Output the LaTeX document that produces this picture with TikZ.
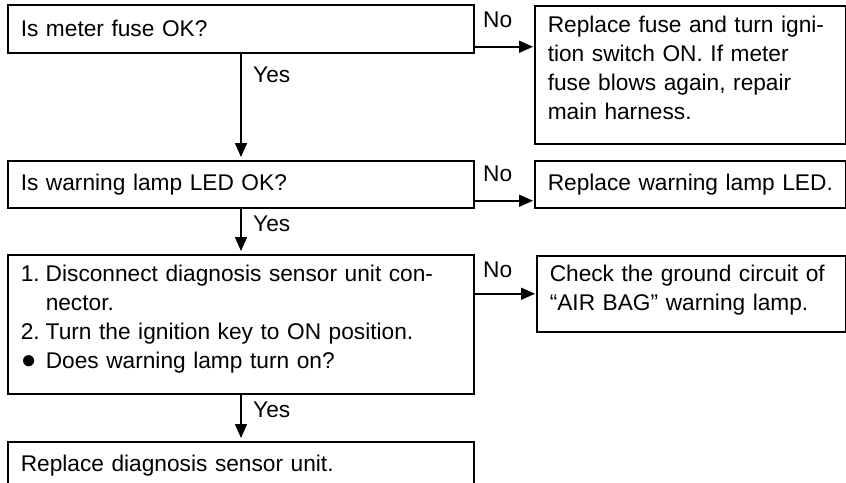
\documentclass[tikz,border=0pt]{standalone}
\usepackage{fontspec}
\setmainfont{Liberation Sans}
\usetikzlibrary{arrows.meta}
\newcommand\liftup[2]{\raisebox{#1}[\height][\depth]{\begin{tabular}{@{}l@{}}#2\end{tabular}}}
\begin{document}
\begin{tikzpicture}[x=1pt,y=-1pt,
  every node/.style={font=\fontsize{22.7pt}{29pt}\selectfont},
  box/.style={draw, line width=1.5pt, anchor=north west, inner xsep=13pt, inner ysep=0pt, align=left},
  arr/.style={line width=1.5pt, -{Triangle[length=14pt,width=12pt]}},
  lbl/.style={anchor=west, inner sep=0pt}]
\useasboundingbox (0,0) rectangle (846,482);
\clip (0,0) rectangle (846,482);
% left column
\node[box, text width=440pt, minimum height=48pt] (b1) at (7,4) {Is meter fuse OK?};
\node[box, text width=440pt, minimum height=47pt] (b2) at (7,160) {Is warning lamp LED OK?};
\node[box, text width=440pt, minimum height=139pt] (b3) at (7,254) {\liftup{5pt}{%
\makebox[25pt][l]{1.}Disconnect diagnosis sensor unit con-\\
\hspace*{25pt}nector.\\
\makebox[25pt][l]{2.}Turn the ignition key to ON position.\\
\makebox[25pt][l]{\fontsize{26pt}{26pt}\selectfont ●}Does warning lamp turn on?}};
\node[box, text width=440pt, minimum height=48pt] (b4) at (7,441) {Replace diagnosis sensor unit.};
% right column
\node[box, text width=285pt, minimum height=138pt] (r1) at (534,5) {\liftup{5pt}{Replace fuse and turn igni-\\tion switch ON. If meter\\fuse blows again, repair\\main harness.}};
\node[box, text width=285pt, minimum height=47pt] (r2) at (534,160) {\mbox{Replace warning lamp LED.}};
\node[box, text width=283pt, minimum height=76pt] (r3) at (536,255) {\liftup{4pt}{Check the ground circuit of\\“AIR BAG” warning lamp.}};
% vertical connectors
\coordinate (ax) at (241,0);
\draw[arr, shorten >=3pt] (b1.south -| ax) -- (b2.north -| ax);
\draw[arr, shorten >=3pt] (b2.south -| ax) -- (b3.north -| ax);
\draw[arr, shorten >=3pt] (b3.south -| ax) -- (b4.north -| ax);
% horizontal connectors
\draw[arr, shorten >=1pt] ([yshift=-18pt]b1.east) -- ([yshift=-18pt]b1.east -| r1.west);
\draw[arr, shorten >=1pt] ([yshift=-16.5pt]b2.east) -- ([yshift=-16.5pt]b2.east -| r2.west);
\draw[arr, shorten >=1pt] (b3.east |- r3.west) -- (r3.west);
% labels
\node[lbl] (n1) at (483,20) {No};
\node[lbl] (n2) at (483,174) {No};
\node[lbl] (n3) at (483,270) {No};
\node[lbl] (y1) at (253,75) {Yes};
\node[lbl] (y2) at (253,224) {Yes};
\node[lbl] (y3) at (253,410) {Yes};
\end{tikzpicture}
\end{document}
